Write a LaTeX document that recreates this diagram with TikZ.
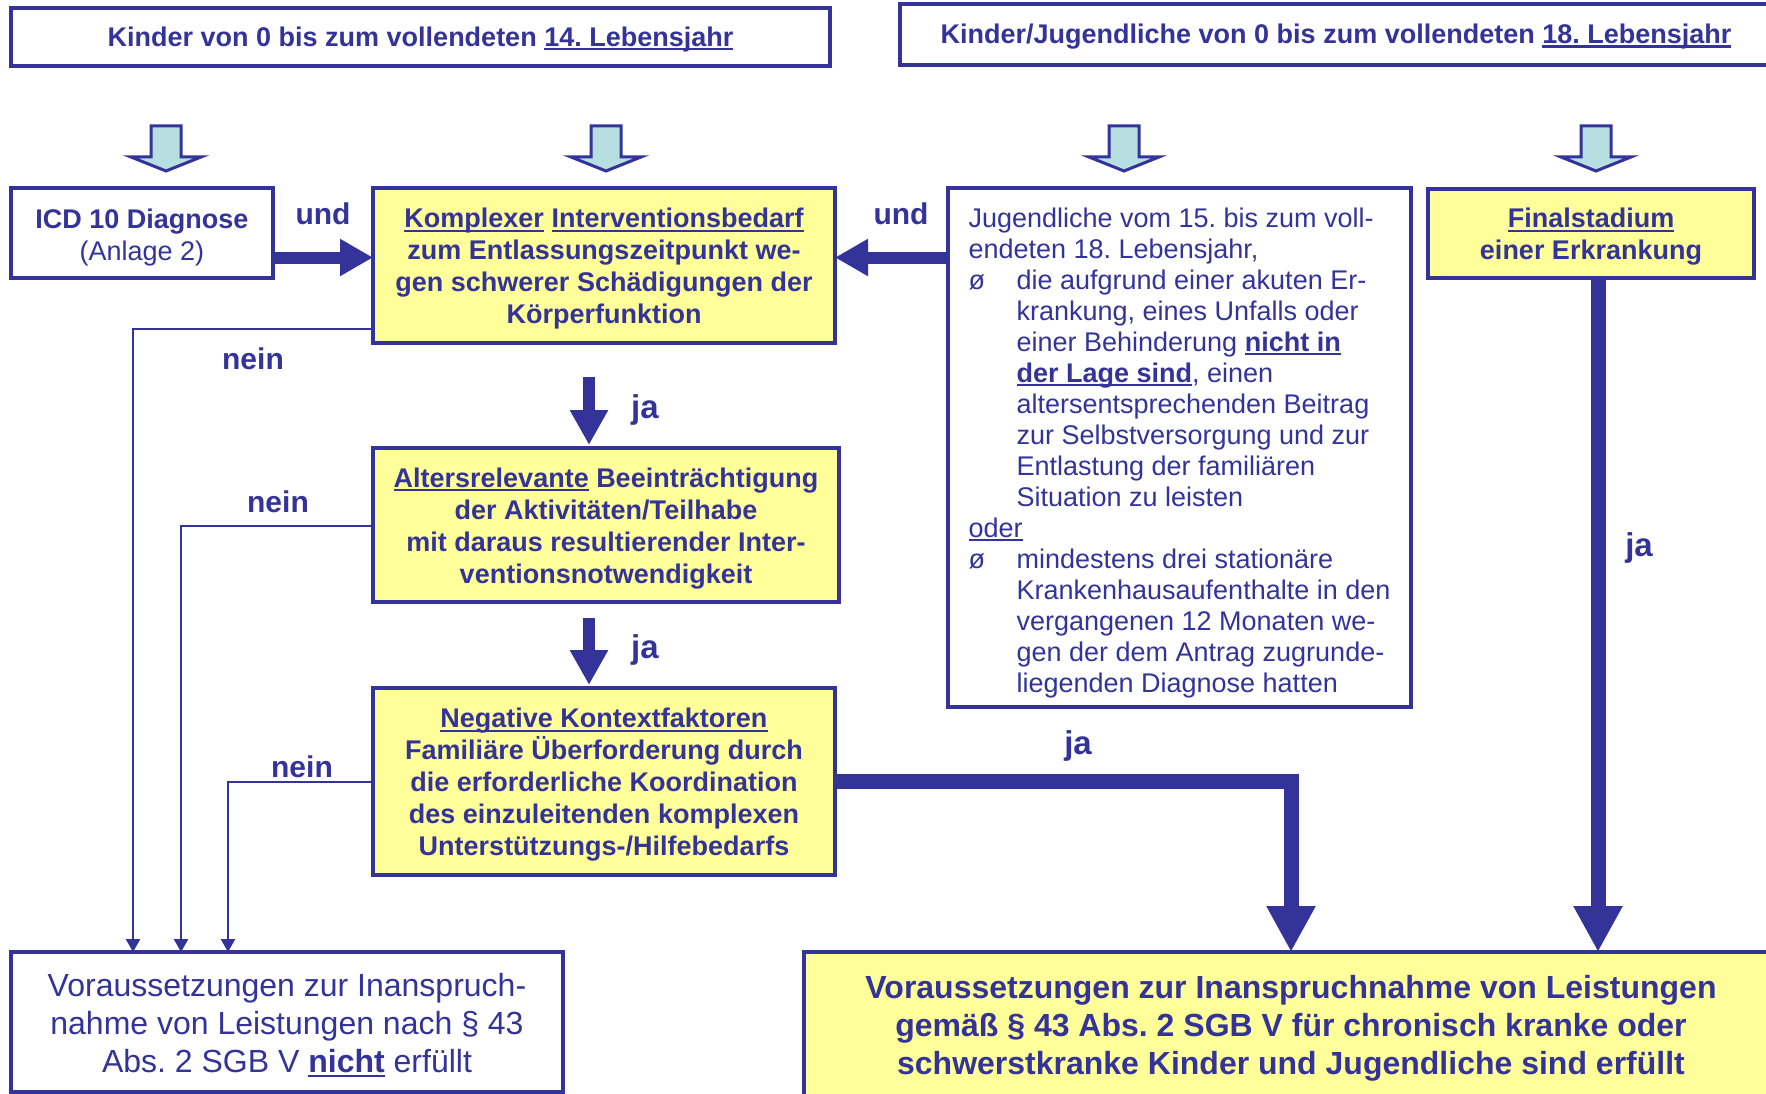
\documentclass[tikz,border=0pt]{standalone}
\usepackage{fontspec}
\setmainfont{Liberation Sans}
\usetikzlibrary{arrows.meta}
\frenchspacing
\definecolor{navy}{RGB}{51,51,153}
\definecolor{lyellow}{RGB}{255,255,153}
\definecolor{lcyan}{RGB}{183,222,224}
\newcommand{\myul}[1]{\setbox0\hbox{#1}\rlap{\rule[-0.14em]{\wd0}{0.08em}}\box0\relax}
\newcommand{\mystrut}{\rule[-0.212em]{0pt}{1.117em}}
\newcommand{\topstrut}[1]{\rule{0pt}{#1}}
\newcommand{\bul}{\makebox[48pt][l]{ø}}
\newcommand{\ind}{\hspace*{48pt}}
\begin{document}
\begin{tikzpicture}[x=1pt,y=-1pt,
  every node/.style={text=navy, inner sep=0pt, outer sep=0pt},
  box/.style={draw=navy, line width=4.5pt, align=center,
    execute at begin node={\mystrut}, execute at end node={\mystrut}},
  ybox/.style={box, fill=lyellow},
  wbox/.style={box, fill=white},
  bf27/.style={font=\fontsize{27}{32}\selectfont\bfseries},
  rm27/.style={font=\fontsize{27}{31}\selectfont},
  lbl/.style={font=\fontsize{30}{34}\selectfont\bfseries},
  jalbl/.style={font=\fontsize{33}{36}\selectfont\bfseries},
  hollow/.style={fill=lcyan, draw=navy, line width=3pt, line join=miter},
  midarr/.style={draw=navy, line width=12pt, -{Triangle[length=33pt,width=35pt]}},
  medarr/.style={draw=navy, line width=12pt, -{Triangle[length=35pt,width=36pt]}},
  bigarr/.style={draw=navy, line width=15pt, line join=miter, -{Triangle[length=46pt,width=46pt]}},
  thinarr/.style={draw=navy, line width=2.5pt, line join=miter, -{Triangle[length=13pt,width=14pt]}}]
\fill[white] (0,0) rectangle (1766,1094);
\clip (0,0) rectangle (1766,1094);

% top boxes
\node[wbox, bf27, minimum width=819pt, minimum height=58pt] (top1) at (420.5,37)
  {Kinder von 0 bis zum vollendeten \myul{14. Lebensjahr}};
\node[wbox, bf27, minimum width=872pt, minimum height=61pt] (top2) at (1336,34.5)
  {Kinder/Jugendliche von 0 bis zum vollendeten \myul{18. Lebensjahr}};

% hollow arrows
\foreach \x in {166,606,1124,1596}
  \filldraw[hollow] (\x-15,126) -- (\x+15,126) -- (\x+15,157) -- (\x+35,157)
     -- (\x,171) -- (\x-35,157) -- (\x-15,157) -- cycle;

% second row
\node[wbox, minimum width=262pt, minimum height=90pt, font=\fontsize{27}{32}\selectfont] (icd) at (142,233)
  {\topstrut{28.7pt}{\bfseries ICD 10 Diagnose}\\(Anlage 2)};
\node[ybox, bf27, minimum width=462pt, minimum height=155pt] (komplexer) at (604,265.5)
  {\topstrut{26.5pt}\myul{Komplexer} \myul{Interventionsbedarf}\\zum Entlassungszeitpunkt we-\\gen schwerer Schädigungen der\\Körperfunktion};
\node[wbox, rm27, align=left, minimum width=463pt, minimum height=519pt] (jugend) at (1179.5,447.5)
  {\topstrut{31pt}Jugendliche vom 15. bis zum voll-\\
   endeten 18. Lebensjahr,\\
   \bul die aufgrund einer akuten Er-\\
   \ind krankung, eines Unfalls oder\\
   \ind einer Behinderung \textbf{\myul{nicht in}}\\
   \ind \textbf{\myul{der Lage sind}}, einen\\
   \ind altersentsprechenden Beitrag\\
   \ind zur Selbstversorgung und zur\\
   \ind Entlastung der familiären\\
   \ind Situation zu leisten\\
   \myul{oder}\\
   \bul mindestens drei stationäre\\
   \ind Krankenhausaufenthalte in den\\
   \ind vergangenen 12 Monaten we-\\
   \ind gen der dem Antrag zugrunde-\\
   \ind liegenden Diagnose hatten};
\node[ybox, bf27, minimum width=326pt, minimum height=89pt] (final) at (1591,233.5)
  {\topstrut{26.5pt}\myul{Finalstadium}\\einer Erkrankung};

\node[ybox, bf27, minimum width=466pt, minimum height=154pt] (alters) at (606,525)
  {\topstrut{26.5pt}\myul{Altersrelevante} Beeinträchtigung\\der Aktivitäten/Teilhabe\\mit daraus resultierender Inter-\\ventionsnotwendigkeit};
\node[ybox, bf27, minimum width=462pt, minimum height=187pt] (negative) at (604,781.5)
  {\topstrut{26.5pt}\myul{Negative Kontextfaktoren}\\Familiäre Überforderung durch\\die erforderliche Koordination\\des einzuleitenden komplexen\\Unterstützungs-/Hilfebedarfs};

% bottom boxes
\node[wbox, font=\fontsize{32}{38}\selectfont, minimum width=552pt, minimum height=140pt] (nicht) at (287,1022)
  {\topstrut{32.4pt}Voraussetzungen zur Inanspruch-\\nahme von Leistungen nach § 43\\Abs. 2 SGB V \textbf{\myul{nicht}} erfüllt};
\node[ybox, font=\fontsize{32}{38}\selectfont\bfseries, minimum width=974pt, minimum height=148pt] (erfuellt) at (1291,1026)
  {\topstrut{27.9pt}Voraussetzungen zur Inanspruchnahme von Leistungen\\gemäß § 43 Abs. 2 SGB V für chronisch kranke oder\\schwerstkranke Kinder und Jugendliche sind erfüllt};

% labels
\node[lbl] (und1) at (323,214) {und};
\node[lbl] (und2) at (901,214) {und};
\node[lbl] (nein1) at (253,359) {nein};
\node[lbl] (nein2) at (278,502) {nein};
\node[lbl] (nein3) at (302,767) {nein};
\node[jalbl] (ja1) at (645,410) {ja};
\node[jalbl] (ja2) at (645,650) {ja};
\node[jalbl] (ja3) at (1078,746) {ja};
\node[jalbl] (ja4) at (1639,548) {ja};

% connectors
\coordinate (yA) at (0,257.5);
\draw[midarr] (icd.east |- yA) -- (komplexer.west |- yA);
\draw[midarr] (jugend.west |- yA) -- (komplexer.east |- yA);

\coordinate (xJ) at (589,0);
\draw[medarr, shorten <=34pt, shorten >=3pt] (komplexer.south -| xJ) -- (alters.north -| xJ);
\draw[medarr, shorten <=16pt, shorten >=3pt] (alters.south -| xJ) -- (negative.north -| xJ);

\coordinate (n1) at (133,329);
\coordinate (n2) at (181,526);
\coordinate (n3) at (228,782);
\draw[thinarr] (komplexer.west |- n1) -| (nicht.north -| n1);
\draw[thinarr] (alters.west |- n2) -| (nicht.north -| n2);
\draw[thinarr] (negative.west |- n3) -| (nicht.north -| n3);

\draw[bigarr] (negative.east) -| (erfuellt.north);
\coordinate (xF) at (1598,0);
\draw[bigarr] (final.south -| xF) -- (erfuellt.north -| xF);
\end{tikzpicture}
\end{document}
